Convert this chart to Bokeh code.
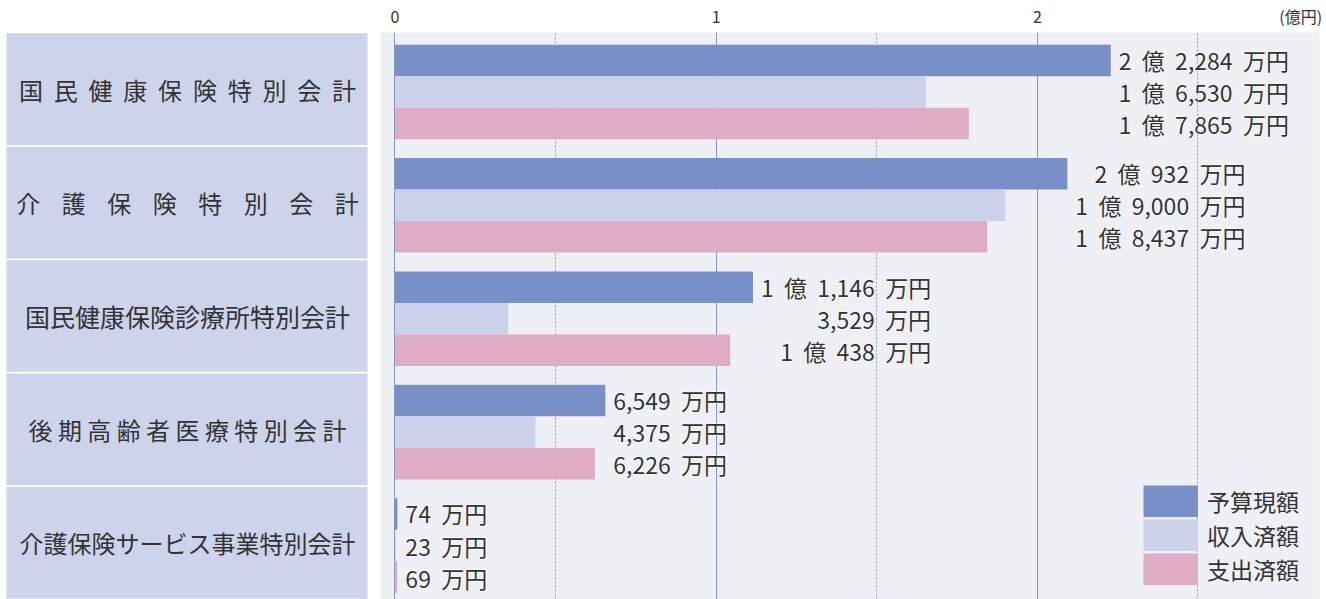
from bokeh.plotting import figure
from bokeh.models import Range1d, FixedTicker, Legend, LegendItem, ColumnDataSource
from bokeh.layouts import row
from bokeh.embed import file_html
from bokeh.resources import INLINE
from bokeh.core.properties import value
from bokeh.transform import dodge

# ---------------- data ----------------
categories = ["国民健康保険特別会計", "介護保険特別会計", "国民健康保険診療所特別会計",
              "後期高齢者医療特別会計", "介護保険サービス事業特別会計"]
series_names = ["予算現額", "収入済額", "支出済額"]
budget = [22284, 20932, 11146, 6549, 74]        # 万円
revenue = [16530, 19000, 3529, 4375, 23]        # 万円
expenditure = [17865, 18437, 10438, 6226, 69]   # 万円
x_ticks = [0, 1, 2]
minor_ticks = [0.5, 1.5, 2.5]
unit_label = "(億円)"
unit_tick_pos = 2.82

# ---------------- styling ----------------
FONT = "Noto Sans CJK JP"
TXT = "#333333"
COLORS = ["#7890c7", "#cbd1ea", "#deadc3"]
BOX = "#cdd3ea"
PLOT_BG = "#eff0f6"
GRID = "#8396d0"
label_gaps = [2, 4, 0, 1, 0]     # nbsp count between characters (visual letter spacing)
label_sizes = ["24px", "24px", "25px", "24px", "24px"]

n = len(categories)
ycat = [n - 1 - i for i in range(n)]
shift = -0.024
ybar = [y + shift for y in ycat]
bar_h = 0.278

def fmt(v):
    oku, man = divmod(v, 10000)
    sp = "\u00a0\u00a0"
    if oku:
        return f"{oku}{sp}億{sp}{man:,}{sp}万円"
    return f"{man:,}{sp}万円"

blocks = ["\n".join(fmt(s[i]) for s in (budget, revenue, expenditure)) for i in range(n)]
group_max = [max(budget[i], revenue[i], expenditure[i]) / 10000 for i in range(n)]

H = 599
TOP = 32
y_range = Range1d(-0.5, n - 0.5)

# ---------------- left label panel ----------------
LW = 380
left = figure(width=LW, height=H, x_range=Range1d(0, 1), y_range=y_range,
              x_axis_location="above", y_axis_type=None,
              toolbar_location=None, output_backend="svg",
              min_border_left=0, min_border_right=0, min_border_bottom=0, min_border_top=TOP)
left.outline_line_color = None
left.background_fill_color = "white"
left.border_fill_color = "white"
left.xgrid.visible = False
left.xaxis.ticker = FixedTicker(ticks=[0.5])
left.xaxis.axis_line_color = None
left.xaxis.major_tick_line_color = None
left.xaxis.minor_tick_line_color = None
left.xaxis.major_label_text_color = None
left.xaxis.major_label_text_font_size = "16px"
left.xaxis.major_label_standoff = 5
left.xaxis.major_tick_out = 0

disp = [("\u00a0" * g).join(list(c)) for c, g in zip(categories, label_gaps)]
lsrc = ColumnDataSource(dict(y=ycat, text=disp, fs=label_sizes))
left.hbar(y="y", left=6 / LW, right=367 / LW, height=0.985, source=lsrc, fill_color=BOX, line_color=None)
left.text(x=187 / LW, y="y", text="text", source=lsrc, text_align="center", text_baseline="middle",
          text_font=value(FONT), text_font_size="fs", text_color=TXT)

# ---------------- main plot ----------------
p = figure(width=945, height=H, x_range=Range1d(-0.0451, 2.8783), y_range=y_range,
           x_axis_location="above", y_axis_type=None,
           toolbar_location=None, output_backend="svg",
           min_border_left=0, min_border_right=6, min_border_bottom=0, min_border_top=TOP)
p.outline_line_color = None
p.background_fill_color = PLOT_BG
p.border_fill_color = "white"
p.xaxis.ticker = FixedTicker(ticks=x_ticks + [unit_tick_pos])
p.xaxis.major_label_overrides = {unit_tick_pos: unit_label}
p.xaxis.axis_line_color = None
p.xaxis.major_tick_line_color = None
p.xaxis.minor_tick_line_color = None
p.xaxis.major_tick_out = 0
p.xaxis.major_label_standoff = 5
p.xaxis.major_label_text_font_size = "16px"
p.xaxis.major_label_text_font = FONT
p.xaxis.major_label_text_color = TXT
p.xgrid.ticker = FixedTicker(ticks=x_ticks, minor_ticks=minor_ticks)
p.xgrid.grid_line_color = GRID
p.xgrid.grid_line_width = 1
p.xgrid.minor_grid_line_color = GRID
p.xgrid.minor_grid_line_dash = "2 2"

src = ColumnDataSource(dict(
    y=ybar,
    budget=[v / 10000 for v in budget],
    revenue=[v / 10000 for v in revenue],
    expenditure=[v / 10000 for v in expenditure],
))
for key, off, col in zip(["budget", "revenue", "expenditure"], [bar_h, 0, -bar_h], COLORS):
    p.hbar(y=dodge("y", off, range=p.y_range), left=0, right=key, height=bar_h,
           source=src, fill_color=col, line_color=None)

tsrc = ColumnDataSource(dict(x=group_max, y=ybar, text=blocks))
common = dict(x="x", y="y", text="text", source=tsrc, x_offset=8,
              anchor=value("center_left"), text_align="right", text_baseline="middle",
              text_font=value(FONT), text_font_size="23px", text_line_height=0.946)
p.text(text_color="white", text_outline_color="white", **common)
p.text(text_color=TXT, **common)

# legend swatches: thick butt-capped lines give full, touching colour blocks
nan = float("nan")
swatches = [p.line(x=[nan], y=[nan], line_color=col, line_width=32, line_cap="butt") for col in COLORS]
legend = Legend(items=[LegendItem(label=nm, renderers=[r]) for nm, r in zip(series_names, swatches)],
                location=(763, 13), orientation="vertical",
                glyph_width=55, glyph_height=32, label_height=32, spacing=0,
                padding=0, margin=0, label_standoff=9,
                label_text_font=FONT, label_text_font_size="23px", label_text_color=TXT,
                background_fill_alpha=0, border_line_color=None)
p.add_layout(legend)

layout = row(left, p)
open("out.html", "w").write(file_html(layout, INLINE))
